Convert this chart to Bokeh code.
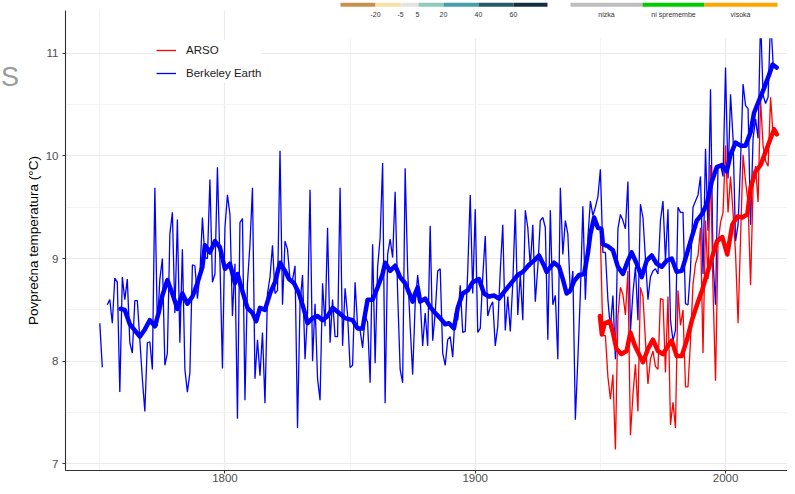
import math
from bokeh.plotting import figure
from bokeh.layouts import column, row
from bokeh.core.properties import value
from bokeh.models import FixedTicker, Legend, LegendItem, Label, BoxAnnotation, Range1d
from bokeh.embed import file_html
from bokeh.resources import INLINE

nan = float("nan")

# ---------------- data ----------------
be_years = list(range(1750, 2021))
be_temp = [
    8.37, 7.94, nan, 8.55, 8.60, 8.37, 8.81, 8.77, 7.70, 8.82,
    8.60, 8.80, 8.18, 8.08, 8.59, 8.59, 8.21, 7.83, 7.51, 8.18,
    8.19, 7.92, 9.69, 8.34, 8.80, 9.00, 7.96, 8.08, 9.24, 9.45,
    8.47, 9.38, 8.18, 9.09, 7.92, 7.70, 7.89, 8.94, 8.93, 8.61,
    8.85, 9.40, 9.01, 9.00, 9.77, 8.77, 8.85, 9.89, 8.98, 7.93,
    9.30, 9.62, 9.43, 8.44, 8.95, 7.44, 9.35, 9.39, 7.62, 8.76,
    9.14, 9.69, 7.83, 8.21, 7.86, 8.28, 7.59, 8.66, 8.82, 9.13,
    8.66, 8.69, 10.05, 8.55, 9.17, 9.09, 8.79, 8.79, 8.93, 7.35,
    8.56, 8.84, 8.02, 8.47, 9.67, 8.00, 8.56, 7.83, 7.62, 8.76,
    8.34, 9.30, 8.18, 8.60, 8.24, 8.24, 9.69, 8.15, 8.71, 8.45,
    7.94, 7.96, 8.77, 8.34, 8.30, 8.13, 8.44, 8.38, 7.79, 9.14,
    7.98, 8.92, 9.20, 9.93, 7.59, 9.04, 9.19, 9.01, 9.65, 8.66,
    7.92, 7.79, 9.88, 8.88, 8.34, 7.87, 8.56, 8.84, 8.60, 8.15,
    8.47, 8.15, 9.32, 8.20, 8.47, 8.88, 8.90, 8.08, 7.96, 8.21,
    8.24, 8.04, 8.47, 8.40, 8.74, 8.28, 8.29, 8.88, 9.62, 8.66,
    9.48, 8.28, 8.32, 8.82, 9.22, 8.44, 8.53, 8.58, 8.15, 8.34,
    8.88, 9.33, 8.30, 8.63, 8.29, 8.76, 9.48, 8.45, 8.85, 8.40,
    9.47, 9.30, 8.92, 9.33, 8.58, 8.92, 9.37, 9.40, 9.30, 8.21,
    9.47, 8.55, 8.64, 8.02, 9.69, 9.04, 9.37, 9.24, 8.66, 8.88,
    7.43, 8.02, 8.66, 9.51, 8.60, 9.20, 9.56, 9.42, 9.50, 9.60,
    9.87, 9.06, 9.06, 8.60, 8.32, 8.64, 8.02, 9.29, 9.43, 9.37,
    9.29, 9.75, 8.29, 8.66, 8.92, 8.40, 9.53, 9.40, 9.00, 8.60,
    8.82, 8.88, 8.90, 8.85, 9.37, 9.56, 8.98, 9.48, 8.40, 8.20,
    8.30, 9.50, 9.45, 9.45, 8.56, 8.55, 8.90, 9.50, 9.56, 9.62,
    9.80, 8.85, 10.07, 9.27, 10.65, 8.98, 8.55, 9.91, 9.91, 9.80,
    10.86, 9.78, 10.60, 10.17, 9.17, 9.33, 9.94, 10.70, 10.49, 10.46,
    9.33, 10.17, 10.36, 10.17, 11.35, 10.59, 10.51, 10.57, 11.35, 10.90,
    10.86,
]

arso_years = list(range(1950, 2021))
arso_temp = [
    9.22, 8.25, 8.25, 7.85, 7.63, 7.87, 7.14, 8.44, 8.72, 8.65,
    8.45, 8.88, 7.28, 7.67, 7.97, 7.51, 8.72, 8.63, 8.20, 7.78,
    8.02, 8.10, 7.95, 7.92, 8.61, 8.60, 7.89, 8.63, 7.38, 7.60,
    7.35, 8.69, 8.35, 8.50, 7.75, 7.75, 8.20, 8.75, 8.95, 9.03,
    9.30, 8.08, 9.37, 8.80, 9.91, 8.70, 7.81, 9.15, 9.35, 9.45,
    10.10, 9.45, 9.80, 9.45, 9.05, 8.37, 9.20, 10.01, 9.75, 9.55,
    8.74, 9.70, 9.90, 9.55, 10.55, 10.10, 9.95, 9.90, 10.57, 10.20,
    10.23,
]

be_smooth_years = [
    1758.3, 1760, 1762, 1764, 1766, 1768, 1770, 1772, 1773.5, 1775, 1777, 1779,
    1781, 1783, 1785, 1787, 1789, 1791, 1792, 1794, 1796, 1798, 1800, 1802,
    1804, 1805, 1807, 1809, 1811, 1812.5, 1814, 1816, 1818, 1820, 1822, 1824,
    1825.6, 1827.6, 1829.6, 1831.6, 1833, 1835, 1837, 1839, 1841, 1843, 1845.6,
    1848, 1851, 1853, 1855, 1857, 1859, 1861, 1863, 1864, 1866, 1868, 1870,
    1872, 1875, 1876, 1877, 1878, 1880, 1882, 1884, 1886, 1888, 1889.5, 1891.5,
    1893, 1895, 1897, 1899, 1901.5, 1903.5, 1905.5, 1907.5, 1909.5, 1912, 1915,
    1917, 1919, 1921.5, 1923.5, 1925.5, 1927.5, 1928.5, 1931.5, 1933.5, 1935,
    1936.5, 1938, 1939.5, 1941.5, 1943.5, 1945, 1946, 1947.5, 1949, 1950.4,
    1951, 1953, 1955, 1957, 1959, 1961, 1962.5, 1964.5, 1966.5, 1968.5, 1970.5,
    1972.5, 1974.5, 1976.5, 1978.5, 1980.5, 1982.5, 1984.5, 1986.5, 1988.5,
    1990.5, 1992.5, 1994.5, 1996.5, 1998.5, 2000.5, 2002, 2004, 2006, 2008,
    2010, 2011.4, 2013.4, 2015.4, 2017.4, 2018.8, 2020.4,
]
be_smooth_temp = [
    8.51, 8.50, 8.36, 8.30, 8.24, 8.31, 8.40, 8.34, 8.47, 8.64, 8.79, 8.66,
    8.51, 8.66, 8.56, 8.63, 8.76, 8.92, 9.13, 9.06, 9.17, 9.11, 8.90, 8.95,
    8.76, 8.85, 8.68, 8.52, 8.47, 8.39, 8.52, 8.50, 8.66, 8.77, 8.96, 8.88,
    8.80, 8.76, 8.66, 8.50, 8.37, 8.42, 8.44, 8.40, 8.44, 8.52, 8.47,
    8.42, 8.40, 8.32, 8.32, 8.60, 8.60, 8.72, 8.85, 8.96, 8.88, 8.93, 8.82,
    8.76, 8.58, 8.66, 8.72, 8.58, 8.61, 8.53, 8.47, 8.42, 8.36, 8.37, 8.32,
    8.52, 8.66, 8.69, 8.77, 8.80, 8.66, 8.63, 8.64, 8.61, 8.69, 8.78,
    8.84, 8.87, 8.94, 8.98, 9.03, 8.93, 8.87, 8.96, 8.92, 8.80,
    8.66, 8.69, 8.78, 8.84, 8.85, 9.05, 9.24, 9.40, 9.30, 9.29,
    9.14, 9.12, 9.08, 8.92, 8.85, 8.98, 9.06, 8.95, 8.82, 8.98, 9.03,
    8.95, 8.92, 8.98, 9.00, 8.87, 8.88, 9.04, 9.21, 9.37,
    9.43, 9.53, 9.75, 9.89, 9.91, 9.85, 10.01, 10.13, 10.10, 10.10,
    10.23, 10.42, 10.54, 10.66, 10.79, 10.89, 10.86,
]

arso_smooth_years = [
    1949.8, 1950.6, 1951.7, 1953.8, 1955, 1956.4, 1958.4, 1960.5, 1962, 1963.8,
    1965.8, 1967, 1969, 1971, 1973, 1975, 1977, 1978.5, 1980.5, 1982.5, 1984.6,
    1986.6, 1988.6, 1990.6, 1992.6, 1994.6, 1996.6, 1998.7, 2000.7, 2002.7,
    2004.7, 2006.7, 2008.7, 2010, 2012, 2014, 2016, 2018, 2019.4, 2020.5,
]
arso_smooth_temp = [
    8.44, 8.26, 8.37, 8.39, 8.28, 8.12, 8.07, 8.10, 8.28, 8.15,
    8.05, 7.99, 8.12, 8.21, 8.10, 8.07, 8.15, 8.20, 8.05, 8.05, 8.21,
    8.40, 8.55, 8.69, 8.85, 9.01, 9.17, 9.21, 9.04, 9.33,
    9.41, 9.40, 9.43, 9.69, 9.85, 9.91, 10.04, 10.17, 10.26, 10.21,
]

series_names = ["ARSO", "Berkeley Earth"]
y_ticks = [7, 8, 9, 10, 11]
y_minor = [7.5, 8.5, 9.5, 10.5]
x_ticks = [1800, 1900, 2000]
x_minor = [1750, 1850, 1950]
scale1_labels = ["-20", "-5", "5", "20", "40", "60"]
scale1_colors = ["#c8904f", "#f6e1a6", "#e3e3e3", "#8ccbbd", "#46a0a8", "#245b66", "#16303f"]
scale2_labels = ["nizka", "ni spremembe", "visoka"]
scale2_colors = ["#bebebe", "#00cc00", "#ffa500"]
y_title = "Povprečna temperatura (°C)"
corner_letter = "S"

# ---------------- layout (page pixels of the reference) ----------------
W = 787
TOP_H = 10
FL = 65
LEFT_W = 19
FW = W - FL
FH = 460
BB = 16
PX_PER_YEAR = 2.503
X0 = 1736.3
X1 = X0 + FW / PX_PER_YEAR
Y0, Y1 = 6.936, 11.416
REF_FT, REF_FH = 10, 466

def xd(px):
    return X0 + (px - FL) / PX_PER_YEAR

def yd(py):
    return Y1 - (py - REF_FT) / REF_FH * (Y1 - Y0)

FONT = "Liberation Sans"

# -------- strip with the neighbouring colour scales (top edge) --------
top = figure(frame_width=FW, frame_height=TOP_H, x_range=Range1d(FL, W),
             y_range=Range1d(TOP_H, 0), output_backend="svg",
             toolbar_location=None, min_border_left=FL, min_border_right=0,
             min_border_top=0, min_border_bottom=0)
top.axis.visible = False
top.grid.visible = False
top.outline_line_color = None
s1_edges = [340, 375, 401, 418, 443, 478, 513, 547]
s2_edges = [570, 642, 704, 777]
top.quad(left=s1_edges[:-1], right=s1_edges[1:], top=0, bottom=4.3,
         fill_color=scale1_colors, line_color=None)
top.quad(left=s2_edges[:-1], right=s2_edges[1:], top=0, bottom=4.3,
         fill_color=scale2_colors, line_color=None)

# -------- narrow strip on the left with the grey letter --------
left = figure(frame_width=LEFT_W, frame_height=FH, x_range=Range1d(0, LEFT_W),
              y_range=Range1d(REF_FT + FH, REF_FT), output_backend="svg",
              toolbar_location=None, min_border_left=0, min_border_right=0,
              min_border_top=0, min_border_bottom=BB)
left.axis.visible = False
left.grid.visible = False
left.outline_line_color = None
left.text(x=[0.5], y=[76], text=[corner_letter], text_align="left",
          text_baseline="alphabetic", text_font=value(FONT),
          text_font_size="27px", text_color="#9a9a9a")

# ---------------- main chart ----------------
p = figure(frame_width=FW, frame_height=FH,
           x_range=Range1d(X0, X1), y_range=Range1d(Y0, Y1),
           output_backend="svg", toolbar_location=None,
           min_border_left=FL - LEFT_W, min_border_right=0,
           min_border_top=0, min_border_bottom=BB)
p.outline_line_color = None
p.background_fill_color = "white"

p.xaxis.ticker = FixedTicker(ticks=x_ticks, minor_ticks=x_minor)
p.yaxis.ticker = FixedTicker(ticks=y_ticks, minor_ticks=y_minor)
for ax in (p.xaxis, p.yaxis):
    ax.axis_line_color = "#333333"
    ax.axis_line_width = 1.1
    ax.major_tick_line_color = "#333333"
    ax.major_tick_out = 3
    ax.major_tick_in = 0
    ax.minor_tick_out = 0
    ax.minor_tick_in = 0
    ax.minor_tick_line_color = None
    ax.major_label_text_color = "#4d4d4d"
    ax.major_label_text_font = FONT
    ax.major_label_text_font_size = "11.5px"
p.xaxis.major_label_standoff = 0
p.yaxis.major_label_standoff = 4
p.yaxis.axis_label = y_title
p.yaxis.axis_label_text_font = FONT
p.yaxis.axis_label_text_font_size = "13.5px"
p.yaxis.axis_label_text_font_style = "normal"
p.yaxis.axis_label_text_color = "#000000"
p.yaxis.axis_label_standoff = 2

for g in (p.xgrid, p.ygrid):
    g.grid_line_color = "#ebebeb"
    g.grid_line_width = 1.2
    g.minor_grid_line_color = "#f2f2f2"
    g.minor_grid_line_width = 0.9

r_be = p.line(be_years, be_temp, line_color="#0000ff", line_width=1.3)
r_ar = p.line(arso_years, arso_temp, line_color="#ff0000", line_width=1.3)
p.line(be_smooth_years, be_smooth_temp, line_color="#0000ff", line_width=4.5,
       line_join="round", line_cap="round")
p.line(arso_smooth_years, arso_smooth_temp, line_color="#ff0000", line_width=4.5,
       line_join="round", line_cap="round")

# white panel of the neighbouring legend that overlaps the top
p.add_layout(BoxAnnotation(left=xd(330), bottom=yd(38), fill_color="white",
                           fill_alpha=1.0, line_color=None))

s1_px = [375, 400, 417, 443, 478, 513]
for lab, px in zip(scale1_labels, s1_px):
    p.add_layout(Label(x=xd(px), y=yd(14), text=lab, text_align="center",
                       text_baseline="middle", text_font=FONT,
                       text_font_size="7px", text_color="#333333"))
s2_px = [606, 673, 740]
for lab, px in zip(scale2_labels, s2_px):
    p.add_layout(Label(x=xd(px), y=yd(14), text=lab, text_align="center",
                       text_baseline="middle", text_font=FONT,
                       text_font_size="7px", text_color="#333333"))

legend = Legend(items=[LegendItem(label=series_names[0], renderers=[r_ar]),
                       LegendItem(label=series_names[1], renderers=[r_be])],
                location=(91, 387))
legend.background_fill_color = "white"
legend.background_fill_alpha = 1.0
legend.border_line_color = None
legend.padding = 10
legend.spacing = 3
legend.margin = 0
legend.glyph_width = 20
legend.glyph_height = 20
legend.label_standoff = 10
legend.label_text_font = FONT
legend.label_text_font_size = "11.5px"
legend.label_text_color = "#1a1a1a"
p.add_layout(legend)

layout = column(top, row(left, p, spacing=0), spacing=0)
open("out.html", "w").write(file_html(layout, INLINE))
